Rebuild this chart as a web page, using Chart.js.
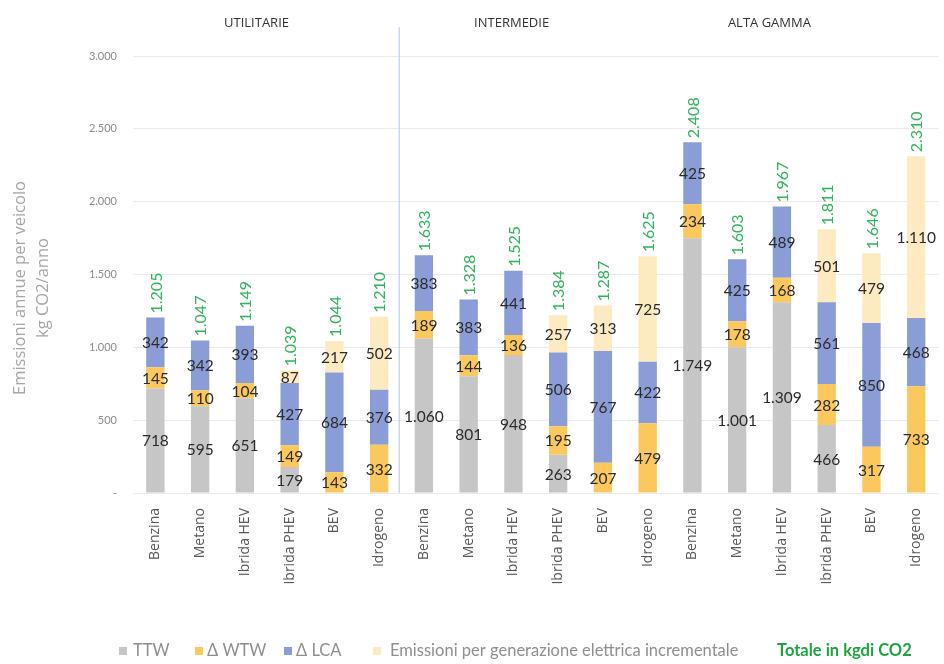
<!DOCTYPE html>
<html><head><meta charset="utf-8">
<script src="https://cdn.jsdelivr.net/npm/chart.js@4.4.1/dist/chart.umd.min.js"></script>
<style>html,body{margin:0;padding:0;background:#fff;overflow:hidden;} #wrap{position:relative;width:948px;height:664px;}</style>
</head><body><div id="wrap"><canvas id="c"></canvas></div>
<script>
const categories = ['Benzina','Metano','Ibrida HEV','Ibrida PHEV','BEV','Idrogeno',
                    'Benzina','Metano','Ibrida HEV','Ibrida PHEV','BEV','Idrogeno',
                    'Benzina','Metano','Ibrida HEV','Ibrida PHEV','BEV','Idrogeno'];
const groups = ['UTILITARIE','INTERMEDIE','ALTA GAMMA'];
const ttw  = [718,595,651,179,0,0,   1060,801,948,263,0,0,   1749,1001,1309,466,0,0];
const dWtw = [145,110,104,149,143,332, 189,144,136,195,207,479, 234,178,168,282,317,733];
const dLca = [342,342,393,427,684,376, 383,383,441,506,767,422, 425,425,489,561,850,468];
const elec = [0,0,0,87,217,502,     0,0,0,257,313,725,     0,0,0,501,479,1110];
const totals = [1205,1047,1149,1039,1044,1210, 1633,1328,1525,1384,1287,1625, 2408,1603,1967,1811,1646,2310];
const seriesNames = ['TTW','\u0394 WTW','\u0394 LCA','Emissioni per generazione elettrica incrementale'];
const totalName = 'Totale in kgdi CO2';
const yTitle = ['Emissioni annue per veicolo','kg CO2/anno'];
const yMax = 3000, yStep = 500;

const colors = ['#C6C6C6','#FBC85E','#8A9DD7','#FEEAC0'];
function fmt(v){ return String(v).replace(/\B(?=(\d{3})+(?!\d))/g,'.'); }

const overlay = {
  id:'overlay',
  beforeDatasetsDraw(chart){
    const {ctx, scales:{x}, chartArea} = chart;
    const lx = x.getPixelForValue(5.45);
    ctx.save();
    ctx.strokeStyle = '#C9D6EE'; ctx.lineWidth = 1.5;
    ctx.beginPath(); ctx.moveTo(lx, 27); ctx.lineTo(lx, chartArea.bottom); ctx.stroke();
    ctx.restore();
  },
  afterDatasetsDraw(chart){
    const {ctx, scales:{x,y}} = chart;
    ctx.save();
    ctx.font = '15.5px Lato'; ctx.fillStyle = '#2b2b2b';
    ctx.textAlign = 'center'; ctx.textBaseline = 'middle';
    chart.data.datasets.forEach((ds, di) => {
      const meta = chart.getDatasetMeta(di);
      meta.data.forEach((el, i) => {
        const v = ds.data[i];
        if (!v) return;
        ctx.fillText(fmt(v), el.x, (el.y + el.base)/2 + 1);
      });
    });
    ctx.font = '16px Lato'; ctx.fillStyle = '#2FB35C';
    ctx.textAlign = 'left'; ctx.textBaseline = 'middle';
    categories.forEach((c, i) => {
      let sum = 0; chart.data.datasets.forEach(ds => sum += ds.data[i]);
      const px = x.getPixelForValue(i), py = y.getPixelForValue(sum) - 4;
      ctx.save(); ctx.translate(px, py); ctx.rotate(-Math.PI/2);
      ctx.fillText(fmt(totals[i]), 0, 1);
      ctx.restore();
    });
    ctx.restore();
  },
  afterDraw(chart){
    const {ctx, scales:{x}} = chart;
    ctx.save();
    ctx.font = '13px "Open Sans"'; ctx.fillStyle = '#333333';
    ctx.textAlign = 'center'; ctx.textBaseline = 'middle';
    const gpos = [2.26, 7.96, 13.72];
    groups.forEach((g, k) => ctx.fillText(g, x.getPixelForValue(gpos[k]), 23));
    ctx.font = '16.5px "Open Sans"'; ctx.fillStyle = '#A6A6A6';
    yTitle.forEach((t, k) => {
      ctx.save(); ctx.translate(20 + k*23, 288); ctx.rotate(-Math.PI/2);
      ctx.fillText(t, 0, 0); ctx.restore();
    });
    const ly = 651;
    const boxX = [119, 195, 284, 373];
    const txtX = [133, 207, 296, 390];
    ctx.font = '16.5px Lato'; ctx.textAlign = 'left'; ctx.textBaseline = 'middle';
    seriesNames.forEach((n, k) => {
      ctx.fillStyle = colors[k];
      ctx.fillRect(boxX[k], ly - 4, 8, 8);
      ctx.fillStyle = '#8F8F8F';
      ctx.fillText(n, txtX[k], ly);
    });
    ctx.font = 'bold 16.5px Lato'; ctx.fillStyle = '#1FA33F';
    ctx.fillText(totalName, 777, ly);
    ctx.restore();
  }
};

new Chart(document.getElementById('c'), {
  type:'bar',
  data:{
    labels: categories,
    datasets: [ttw, dWtw, dLca, elec].map((d, k) => ({
      label: seriesNames[k], data: d, backgroundColor: colors[k],
      barPercentage: 0.41, categoryPercentage: 1.0, borderWidth: 0
    }))
  },
  options:{
    responsive:true, maintainAspectRatio:false, animation:false,
    layout:{padding:{top:56, right:0, bottom:0, left:0}},
    plugins:{legend:{display:false}, tooltip:{enabled:false}},
    scales:{
      x:{
        stacked:true,
        grid:{display:false, drawTicks:false},
        border:{display:false},
        ticks:{autoSkip:false, minRotation:90, maxRotation:90, padding:15,
               color:'#595959', font:{family:'Open Sans', size:14}},
        afterFit(s){ s.height = 171; }
      },
      y:{
        stacked:true, min:0, max:yMax,
        grid:{color:'#EBEBEB', drawTicks:false},
        border:{display:false},
        ticks:{stepSize:yStep, padding:16, color:'#8C8C8C', font:{family:'Lato', size:11},
               callback:(v)=> v === 0 ? '-' : fmt(v)},
        afterFit(s){ s.width = 133; }
      }
    }
  },
  plugins:[overlay]
});
</script>
</body></html>
